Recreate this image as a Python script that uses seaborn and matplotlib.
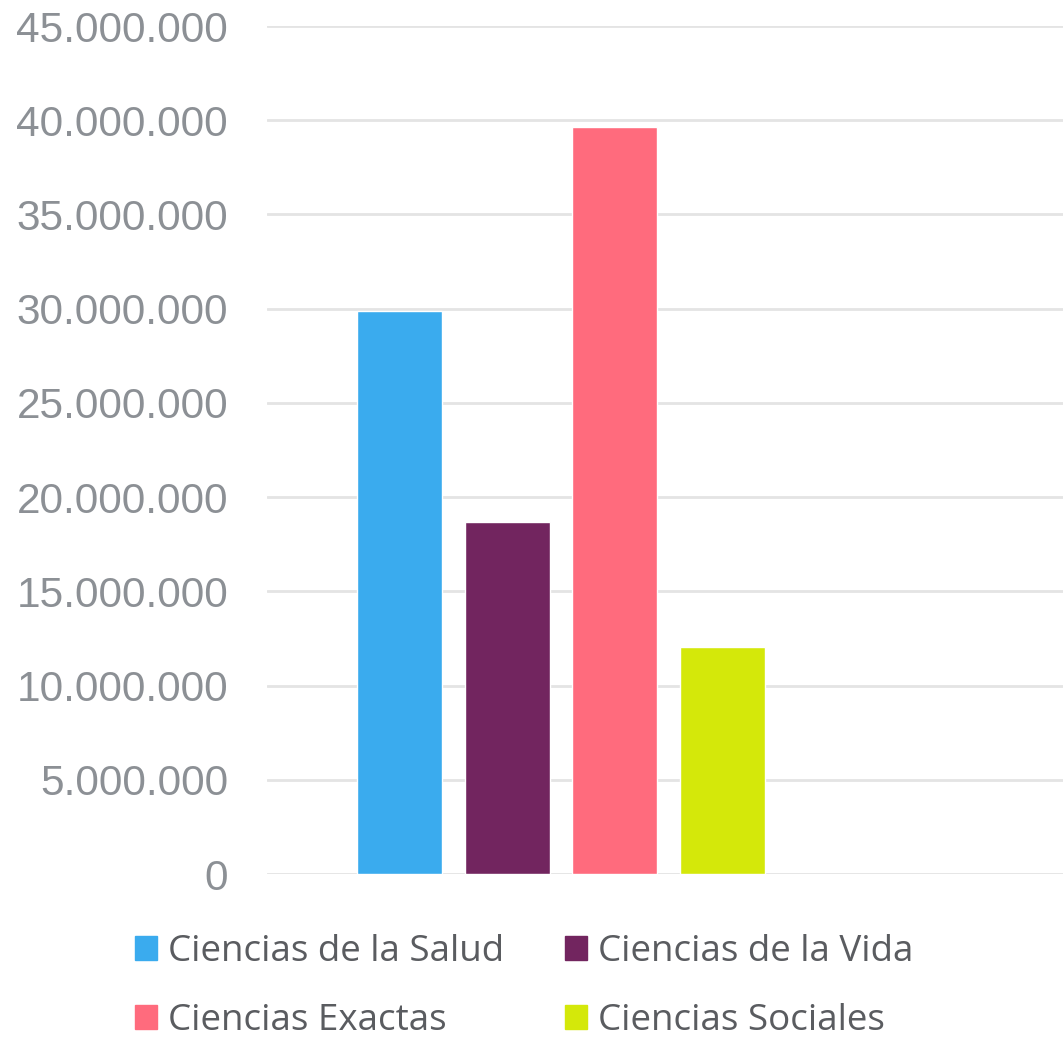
import matplotlib
matplotlib.use("Agg")
import matplotlib.pyplot as plt
import matplotlib.ticker as mticker
import seaborn as sns
import pandas as pd

categories = ["Ciencias de la Salud", "Ciencias de la Vida", "Ciencias Exactas", "Ciencias Sociales"]
values = [29_900_000, 18_700_000, 39_650_000, 12_050_000]
colors = ["#3aabee", "#72255f", "#ff6b7d", "#d4e80a"]
yticks = [0, 5_000_000, 10_000_000, 15_000_000, 20_000_000, 25_000_000,
          30_000_000, 35_000_000, 40_000_000, 45_000_000]

df = pd.DataFrame({"categoria": categories, "valor": values})

sns.set_theme(style="white")
plt.rcParams["font.family"] = ["Liberation Sans", "DejaVu Sans"]

fig = plt.figure(figsize=(10.63, 10.38), dpi=100)
ax = fig.add_axes([267 / 1063, 1 - 874 / 1038, 1 - 267 / 1063, (874 - 26) / 1038])

sns.barplot(data=df, x="categoria", y="valor", hue="categoria",
            palette=colors, width=0.79, legend=False, ax=ax, saturation=1)

ax.set_ylim(0, 45_000_000)
ax.set_xlim(-1.23, 6.16)
ax.set_yticks(yticks)
ax.yaxis.set_major_formatter(mticker.FuncFormatter(lambda v, p: f"{int(v):,}".replace(",", ".")))
ax.tick_params(axis="y", labelsize=30.5, labelcolor="#8c9095", length=0, pad=28)
ax.set_xticks([])
ax.set_xlabel("")
ax.set_ylabel("")
ax.grid(axis="y", color="#e4e4e4", linewidth=2)
ax.set_axisbelow(True)
for s in ax.spines.values():
    s.set_visible(False)
ax.patch.set_alpha(0)

# legend is filled column by column: reorder so rows read Salud/Vida, Exactas/Sociales
order = [0, 2, 1, 3]
handles = [plt.Rectangle((0, 0), 1, 1, color=colors[i]) for i in order]
labels = [categories[i] for i in order]
leg = fig.legend(handles, labels, loc="upper left",
                 bbox_to_anchor=(135 / 1063, 1 - 934 / 1038), ncol=2,
                 frameon=False, borderpad=0, borderaxespad=0,
                 handlelength=0.6, handleheight=0.6, handletextpad=0.3,
                 labelspacing=0.9, columnspacing=1.65,
                 prop={"family": ["Open Sans", "DejaVu Sans"], "size": 26.5})
for t in leg.get_texts():
    t.set_color("#5a5c60")

fig.savefig("out.png", dpi=100)
